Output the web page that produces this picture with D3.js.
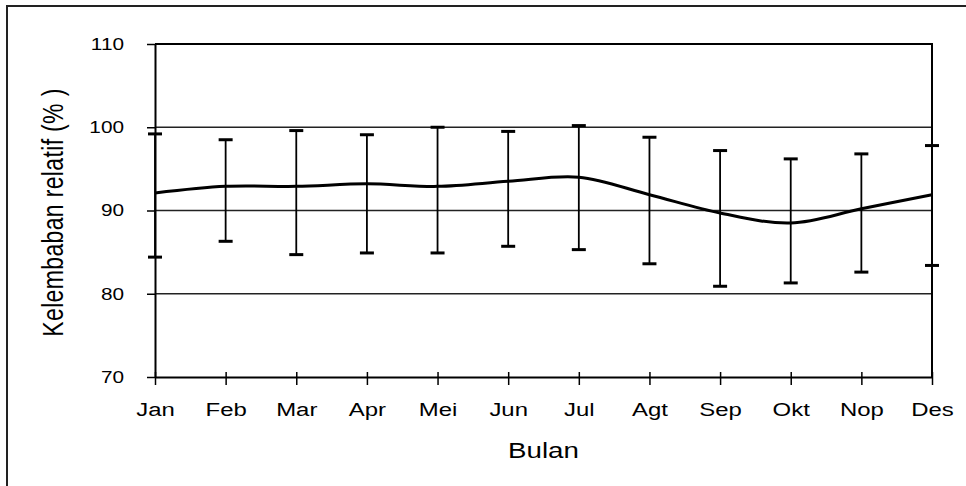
<!DOCTYPE html>
<html>
<head>
<meta charset="utf-8">
<script src="https://cdn.jsdelivr.net/npm/d3@7"></script>
<style>
  body { margin: 0; background: #fff; }
  svg { display: block; font-family: "Liberation Sans", Arial, sans-serif; }
</style>
</head>
<body>
<div id="chart"></div>
<script>
const months = ["Jan", "Feb", "Mar", "Apr", "Mei", "Jun", "Jul", "Agt", "Sep", "Okt", "Nop", "Des"];
const meanRH = [92.1, 92.9, 92.9, 93.2, 92.9, 93.5, 94.0, 91.9, 89.7, 88.5, 90.2, 91.9];
const upperRH = [99.2, 98.5, 99.6, 99.1, 100.0, 99.5, 100.2, 98.8, 97.2, 96.2, 96.8, 97.8];
const lowerRH = [84.4, 86.3, 84.7, 84.9, 84.9, 85.7, 85.3, 83.6, 80.9, 81.3, 82.6, 83.4];
const yTicks = [70, 80, 90, 100, 110];
const gridValues = [80, 90, 100];

const width = 966, height = 486;
const plotLeft = 155, plotRight = 932, plotTop = 44, plotBottom = 377;
const stretch = 1.26; // text in the source is drawn wide

const svg = d3.select("#chart").append("svg")
    .attr("width", width)
    .attr("height", height);

svg.append("rect")
    .attr("width", width).attr("height", height)
    .attr("fill", "#fff");

// outer frame (only top and left visible)
svg.append("path")
    .attr("d", `M7,${height + 5}V6H${width + 5}`)
    .attr("fill", "none")
    .attr("stroke", "#222")
    .attr("stroke-width", 2);

const x = d3.scalePoint().domain(months).range([plotLeft, plotRight]);
const y = d3.scaleLinear().domain([70, 110]).range([plotBottom, plotTop]);

const data = months.map((m, i) => ({ m, mean: meanRH[i], hi: upperRH[i], lo: lowerRH[i] }));

// grid lines
svg.append("g")
    .selectAll("line")
    .data(gridValues)
    .enter().append("line")
    .attr("x1", plotLeft).attr("x2", plotRight)
    .attr("y1", d => y(d)).attr("y2", d => y(d))
    .attr("stroke", "#222")
    .attr("stroke-width", 1.3);

// top and right border of plot area
svg.append("path")
    .attr("d", `M${plotLeft},${y(110)}H${plotRight}V${plotBottom}`)
    .attr("fill", "none")
    .attr("stroke", "#000")
    .attr("stroke-width", 2);

// error bars
const bars = svg.append("g").selectAll("g")
    .data(data)
    .enter().append("g");

bars.append("line")
    .attr("x1", d => x(d.m)).attr("x2", d => x(d.m))
    .attr("y1", d => y(d.hi)).attr("y2", d => y(d.lo))
    .attr("stroke", "#000")
    .attr("stroke-width", 1.8);

bars.selectAll("line.cap")
    .data(d => [{ m: d.m, v: d.hi }, { m: d.m, v: d.lo }])
    .enter().append("line")
    .attr("class", "cap")
    .attr("x1", d => x(d.m) - 7).attr("x2", d => x(d.m) + 7)
    .attr("y1", d => y(d.v)).attr("y2", d => y(d.v))
    .attr("stroke", "#000")
    .attr("stroke-width", 3);

// mean line
const line = d3.line()
    .x(d => x(d.m))
    .y(d => y(d.mean))
    .curve(d3.curveCardinal.tension(0));

svg.append("path")
    .datum(data)
    .attr("d", line)
    .attr("fill", "none")
    .attr("stroke", "#000")
    .attr("stroke-width", 3);

// y axis
const yAxis = svg.append("g")
    .attr("transform", `translate(${plotLeft},0)`)
    .call(d3.axisLeft(y).tickValues(yTicks).tickSize(8).tickSizeOuter(0));

yAxis.select(".domain").attr("stroke", "#000").attr("stroke-width", 2);
yAxis.selectAll(".tick line").attr("stroke", "#000").attr("stroke-width", 1.5);
yAxis.selectAll(".tick text")
    .attr("x", null)
    .attr("dy", "0.32em")
    .attr("transform", `translate(-31,0) scale(${stretch},1)`)
    .attr("font-size", "16.5px")
    .attr("font-family", "Liberation Sans, Arial, sans-serif")
    .attr("fill", "#000");

// x axis
const xAxis = svg.append("g")
    .attr("transform", `translate(0,${plotBottom})`)
    .call(d3.axisBottom(x).tickSize(8).tickSizeOuter(0));

xAxis.select(".domain").attr("stroke", "#000").attr("stroke-width", 2);
xAxis.selectAll(".tick line")
    .attr("y1", -5).attr("y2", 8)
    .attr("stroke", "#000").attr("stroke-width", 1.5);
xAxis.selectAll(".tick text")
    .attr("y", null)
    .attr("dy", null)
    .attr("transform", `translate(0,39) scale(${stretch},1)`)
    .attr("font-size", "19px")
    .attr("font-family", "Liberation Sans, Arial, sans-serif")
    .attr("fill", "#000");

// axis titles
svg.append("text")
    .attr("transform", `translate(${(plotLeft + plotRight) / 2},458) scale(${stretch},1)`)
    .attr("text-anchor", "middle")
    .attr("font-size", "22px")
    .attr("fill", "#000")
    .text("Bulan");

svg.append("text")
    .attr("transform", `translate(63,${(plotTop + plotBottom) / 2 + 2}) scale(${stretch},1) rotate(-90)`)
    .attr("text-anchor", "middle")
    .attr("font-size", "23px")
    .attr("letter-spacing", "0.35px")
    .attr("fill", "#000")
    .text("Kelembaban relatif (% )");
</script>
</body>
</html>
